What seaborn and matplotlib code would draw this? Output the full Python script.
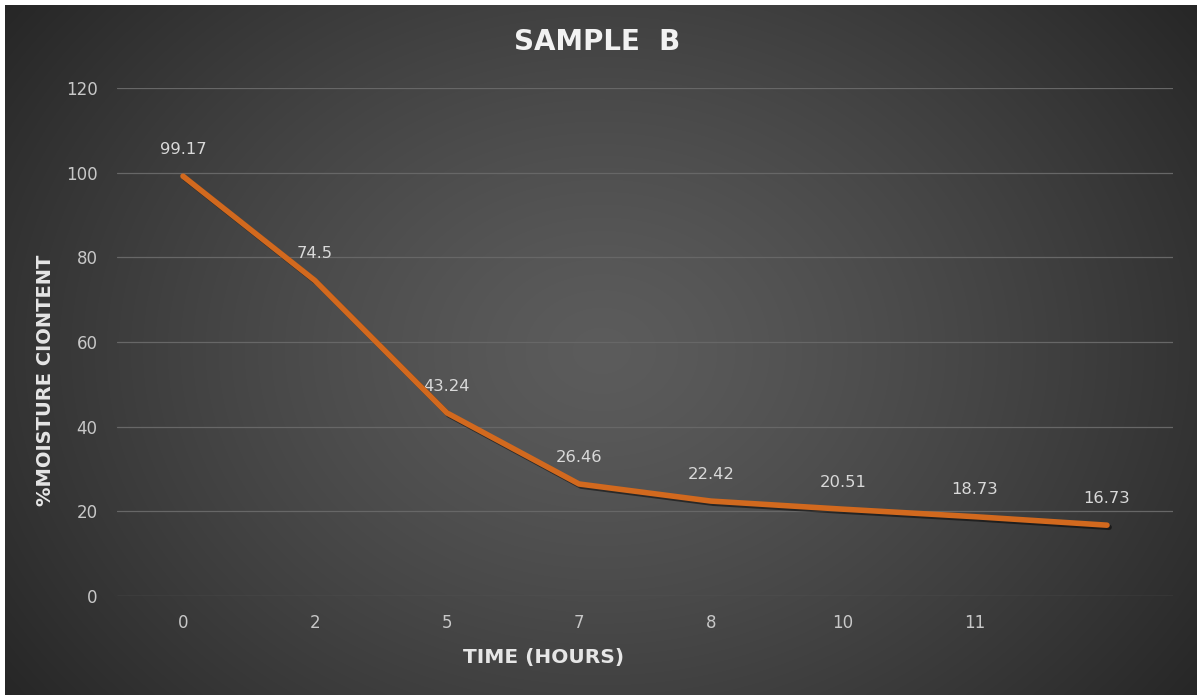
import numpy as np
import pandas as pd
import matplotlib
matplotlib.use("Agg")
import matplotlib.pyplot as plt
import matplotlib.patheffects as pe
import seaborn as sns

# ---- data ----
time_labels = ["0", "2", "5", "7", "8", "10", "11", ""]
moisture = [99.17, 74.5, 43.24, 26.46, 22.42, 20.51, 18.73, 16.73]
y_ticks = [0, 20, 40, 60, 80, 100, 120]

title = "SAMPLE  B"
x_label = "TIME (HOURS)"
y_label = "%MOISTURE CIONTENT"

sns.set_theme(style="dark")
plt.rcParams['font.family'] = ['DejaVu Sans']

W, H = 1202, 695
fig = plt.figure(figsize=(W / 100, H / 100), dpi=100, facecolor="white")

# background radial gradient panel
bg = fig.add_axes([5 / W, 0, (1197 - 5) / W, (H - 5) / H], zorder=-10)
ny, nx = 400, 700
yy, xx = np.mgrid[0:ny, 0:nx]
r = np.sqrt(((xx - nx * 0.5) / (nx * 0.62)) ** 2 + ((yy - ny * 0.5) / (ny * 0.85)) ** 2)
r = np.clip(r, 0, 1)
center, edge = 0.36, 0.150
val = center - (center - edge) * r ** 1.3
img = np.dstack([val, val, val])
bg.imshow(img, aspect="auto", extent=[0, 1, 0, 1], interpolation="bilinear")
bg.set_axis_off()

# main axes
left, right = 117 / W, 1173 / W
bottom, top = 1 - 596 / H, 1 - 88 / H
ax = fig.add_axes([left, bottom, right - left, top - bottom])
ax.set_facecolor((0, 0, 0, 0))
ax.patch.set_alpha(0)

df = pd.DataFrame({"time": time_labels, "moisture": moisture})
sns.lineplot(data=df, x="time", y="moisture", ax=ax, color="#D2691E", linewidth=4,
             sort=False, zorder=5,
             path_effects=[pe.SimpleLineShadow(offset=(1.5, -1.5), shadow_color="black", alpha=0.5),
                           pe.Normal()],
             solid_capstyle="round")

ax.set_ylim(0, 120)
ax.set_yticks(y_ticks)
ax.set_xlim(-0.5, len(time_labels) - 0.5)
ax.grid(axis="y", color="#676767", linewidth=0.9)
ax.grid(axis="x", visible=False)
ax.set_axisbelow(True)
for s in ax.spines.values():
    s.set_visible(False)

ax.tick_params(axis="both", colors="#BFBFBF", labelsize=12, length=0)
ax.tick_params(axis="y", pad=14)
ax.tick_params(axis="x", pad=13)
for t in ax.get_xticklabels() + ax.get_yticklabels():
    t.set_color("#C8C8C8")

for i, v in enumerate(moisture):
    ax.annotate(f"{v:g}", xy=(i, v), xytext=(0, 14), textcoords="offset points",
                ha="center", va="bottom", fontsize=11.8, color="#D9D9D9")

ax.set_xlabel("")
ax.set_ylabel("")

fig.text(597 / W, 1 - 42 / H, title, ha="center", va="center", fontsize=20,
         fontweight="bold", color="#F2F2F2")
fig.text(544 / W, 1 - 657 / H, x_label, ha="center", va="center", fontsize=14.5,
         fontweight="bold", color="#E6E6E6")
fig.text(46 / W, 1 - 380 / H, y_label, ha="center", va="center", rotation=90,
         fontsize=14, fontweight="bold", color="#E6E6E6")

fig.savefig("out.png", dpi=100, facecolor="white")
